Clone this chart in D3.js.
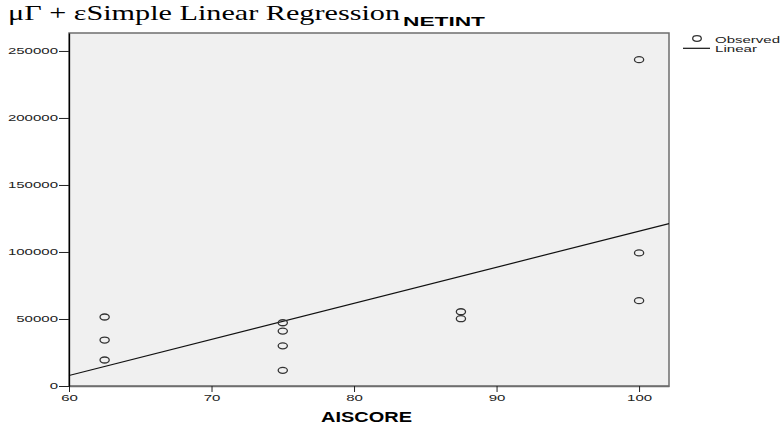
<!DOCTYPE html>
<html>
<head>
<meta charset="utf-8">
<script src="https://cdn.jsdelivr.net/npm/d3@7"></script>
<style>
  body { margin: 0; background: #fff; }
  svg { display: block; }
</style>
</head>
<body>
<div id="chart"></div>
<script>
// observed points (AISCORE, NETINT)
const aiscore = [62.5, 62.5, 62.5, 75, 75, 75, 75, 87.5, 87.5, 100, 100, 100];
const netint = [51500, 34300, 19400, 47200, 41000, 30000, 11700, 55400, 50200, 243500, 99300, 63700];
const xTicks = [60, 70, 80, 90, 100];
const yTicks = [0, 50000, 100000, 150000, 200000, 250000];

const width = 784;
const height = 423;
const stretch = 1.67; // the source picture has wide, flat lettering

const svg = d3.select('#chart')
    .append('svg')
    .attr('width', width)
    .attr('height', height);

const x = d3.scaleLinear()
    .domain([60, 102.1])
    .range([69, 669]);

const y = d3.scaleLinear()
    .domain([0, 263400])
    .range([386, 33]);

// plot frame
svg.append('rect')
    .attr('x', x(60))
    .attr('y', y(263400))
    .attr('width', x(102.1) - x(60))
    .attr('height', y(0) - y(263400))
    .attr('fill', '#f0f0f0')
    .attr('stroke', '#6e6e6e')
    .attr('stroke-width', 1.5);

// least squares fit of the observed points
const mx = d3.mean(aiscore), my = d3.mean(netint);
let sxy = 0, sxx = 0;
aiscore.forEach((v, i) => {
    sxy += (v - mx) * (netint[i] - my);
    sxx += (v - mx) * (v - mx);
});
const slope = sxy / sxx;
const intercept = my - slope * mx;
const fit = x.domain().map(v => [v, intercept + slope * v]);

svg.append('path')
    .datum(fit)
    .attr('fill', 'none')
    .attr('stroke', '#111')
    .attr('stroke-width', 1.2)
    .attr('d', d3.line().x(d => x(d[0])).y(d => y(d[1])));

svg.append('g')
    .selectAll('ellipse')
    .data(aiscore)
    .join('ellipse')
        .attr('cx', d => x(d))
        .attr('cy', (d, i) => y(netint[i]))
        .attr('rx', 4.6)
        .attr('ry', 3)
        .attr('fill', 'none')
        .attr('stroke', '#333')
        .attr('stroke-width', 1.3);

function xAxis(g) {
    g.attr('transform', `translate(0, ${y(0)})`)
        .call(d3.axisBottom(x).tickValues(xTicks).tickSize(6).tickPadding(3).tickSizeOuter(0))
        .attr('font-family', 'Arial, "Liberation Sans", sans-serif')
        .attr('font-size', 9);
    g.select('.domain').attr('stroke', '#6e6e6e').attr('stroke-width', 1.5);
    g.selectAll('.tick line').attr('stroke', '#222');
    g.selectAll('.tick text').attr('fill', '#222').attr('transform', `scale(${stretch},1)`);
}

function yAxis(g) {
    g.attr('transform', `translate(${x(60)}, 0)`)
        .call(d3.axisLeft(y).tickValues(yTicks).tickFormat(d3.format('d')).tickSize(10).tickPadding(1).tickSizeOuter(0))
        .attr('font-family', 'Arial, "Liberation Sans", sans-serif')
        .attr('font-size', 9);
    g.select('.domain').attr('stroke', '#000').attr('stroke-width', 1.3);
    g.selectAll('.tick line').attr('stroke', '#222');
    g.selectAll('.tick text').attr('fill', '#222')
        .attr('x', -11 / stretch)
        .attr('transform', `scale(${stretch},1)`);
}

svg.append('g').call(xAxis);
svg.append('g').call(yAxis);

// texts
svg.append('text')
    .attr('x', 8).attr('y', 20)
    .attr('font-family', '"Liberation Serif", "Times New Roman", serif')
    .attr('font-size', 22)
    .attr('textLength', 392)
    .attr('lengthAdjust', 'spacingAndGlyphs')
    .text('μΓ + εSimple Linear Regression');

svg.append('text')
    .attr('x', 403).attr('y', 26)
    .attr('font-family', 'Arial, "Liberation Sans", sans-serif')
    .attr('font-weight', 'bold')
    .attr('font-size', 12.5)
    .attr('textLength', 82)
    .attr('lengthAdjust', 'spacingAndGlyphs')
    .text('NETINT');

svg.append('text')
    .attr('x', 321).attr('y', 421.5)
    .attr('font-family', 'Arial, "Liberation Sans", sans-serif')
    .attr('font-weight', 'bold')
    .attr('font-size', 14.5)
    .attr('textLength', 91)
    .attr('lengthAdjust', 'spacingAndGlyphs')
    .text('AISCORE');

// legend
const legend = svg.append('g')
    .attr('font-family', 'Arial, "Liberation Sans", sans-serif')
    .attr('font-size', 9)
    .attr('fill', '#222');
legend.append('ellipse')
    .attr('cx', 697).attr('cy', 38.5).attr('rx', 4.3).attr('ry', 2.8)
    .attr('fill', 'none').attr('stroke', '#333').attr('stroke-width', 1.3);
legend.append('text')
    .attr('x', 715).attr('y', 42.5)
    .attr('textLength', 65).attr('lengthAdjust', 'spacingAndGlyphs')
    .text('Observed');
legend.append('line')
    .attr('x1', 683).attr('x2', 710).attr('y1', 48.3).attr('y2', 48.3)
    .attr('stroke', '#111').attr('stroke-width', 1.2);
legend.append('text')
    .attr('x', 715).attr('y', 51.5)
    .attr('textLength', 42).attr('lengthAdjust', 'spacingAndGlyphs')
    .text('Linear');
</script>
</body>
</html>
